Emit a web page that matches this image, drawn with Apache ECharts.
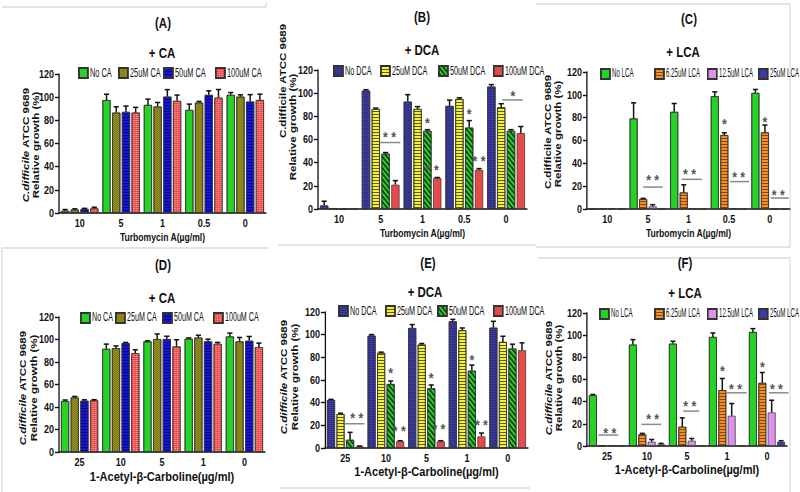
<!DOCTYPE html>
<html><head><meta charset="utf-8">
<script src="https://cdn.jsdelivr.net/npm/echarts@6/dist/echarts.min.js"></script>
<style>
html,body{margin:0;padding:0;background:#fff;overflow:hidden}
#wrap{width:800px;height:492px;overflow:hidden;position:relative}
#c{width:976px;height:492px;transform:scale(0.81967,1);transform-origin:0 0;position:absolute;left:0;top:0}
</style>
</head><body><div id="wrap"><div id="c"></div></div>
<script>
// ---------- data ----------
const turboCats = ['10', '5', '1', '0.5', '0'];
const carbCats = ['25', '10', '5', '1', '0'];
const caNames = ['No CA', '25uM CA', '50uM CA', '100uM CA'];
const dcaNames = ['No DCA', '25uM DCA', '50uM DCA', '100uM DCA'];
const lcaNames = ['No LCA', '6.25uM LCA', '12.5uM LCA', '25uM LCA'];

const valsA = [
  [2, 97.5, 93.3, 89, 102],
  [3, 86.7, 91.9, 95.3, 100.5],
  [3.5, 87.3, 100.5, 102, 96.2],
  [4, 86.7, 96.8, 99.6, 97.6]];
const errsA = [
  [1, 5, 5, 5, 2],
  [0.6, 5, 3.5, 1, 1.5],
  [0.5, 5, 6, 3.5, 6],
  [1, 4.5, 5, 7, 5]];
const valsB = [
  [3, 102.2, 92.7, 89, 105.7],
  [0.3, 86.4, 86.4, 95, 87.9],
  [0.3, 47.7, 67.5, 70.3, 67.5],
  [0.3, 21, 26.7, 33.9, 65.5]];
const errsB = [
  [3.7, 0.8, 6, 5, 1.7],
  [0, 0.7, 2, 1, 3],
  [0, 1, 1, 6, 1],
  [0, 3.5, 0.5, 1, 5.7]];
const valsC = [
  [0.5, 79.3, 85.1, 98.8, 101.7],
  [0.5, 8.7, 14.5, 64.8, 67.1],
  [0.5, 2.3, 0.3, 0.3, 0.3],
  [0.5, 0.3, 0.3, 0.3, 0.3]];
const errsC = [
  [0, 13.7, 7.3, 3.8, 3],
  [0, 0.6, 6.7, 2, 6.4],
  [0, 1.5, 0, 0, 0],
  [0, 0, 0, 0, 0]];
const valsD = [
  [45.3, 91.7, 98.3, 100.7, 102.7],
  [48.5, 92.3, 100.4, 101.8, 98.3],
  [45.6, 96.8, 100.4, 98.3, 98.9],
  [45.9, 87.8, 93.8, 96.2, 93.2]];
const errsD = [
  [0.9, 4.2, 0.5, 0.7, 3],
  [0.9, 2, 4.5, 2, 3.5],
  [0.8, 0.6, 2.5, 2, 3.8],
  [0.6, 3, 6, 1.2, 3.6]];
const valsE = [
  [42.4, 99.2, 105.9, 111.8, 106.2],
  [29.9, 84, 91.3, 103.9, 93.6],
  [7.3, 56.5, 52.7, 68.2, 87.8],
  [1.5, 5.9, 5.9, 10.2, 86.3]];
const errsE = [
  [0.5, 0.9, 3, 1.7, 5.6],
  [0.8, 0.6, 0.9, 2, 5],
  [6.5, 2.6, 2.9, 5, 3.8],
  [0.3, 0.5, 0.5, 3, 6.5]];
const valsF = [
  [45.9, 91.5, 92.4, 98.4, 102.9],
  [0.5, 10.5, 17.4, 50.4, 57],
  [0.5, 3.9, 4.8, 27.3, 30.3],
  [0.5, 1.5, 0.5, 0.5, 3.9]];
const errsF = [
  [0.6, 4.5, 2.1, 3.6, 3],
  [0, 0.9, 8, 10.5, 9.3],
  [0, 2, 2, 11, 11],
  [0, 0.9, 0, 0, 0.9]];

// significance marks: [category, bar slot, value, text]  and lines: [category, slot from, slot to, value]
const starsB = [[1, 2.4, 65.5, '* *'], [2, 2, 78, '*'], [2, 2.5, 37, '* *'], [3, 2, 85.6, '*'], [3, 3, 44.5, '* *'], [4, 2.2, 101, '*']];
const barsB = [[1, 1.45, 3.5, 57.4], [4, 1.1, 3.2, 94.2]];
const starsC = [[1, 2, 28.5, '* *'], [2, 1.6, 34.3, '* *'], [3, 1, 78, '*'], [3, 2.5, 31.4, '* *'], [4, 1, 80, '*'], [4, 2.4, 16, '* *']];
const barsC = [[1, 1, 3.05, 19.2], [2, 0.8, 2.9, 26], [3, 1.6, 3.6, 24], [4, 1.6, 3.5, 9.6]];
const starsE = [[0, 2.7, 30, '* *'], [1, 2, 69.7, '*'], [1, 2.9, 18.4, '* *'], [2, 2, 65.3, '*'], [2, 2.8, 20.5, '* *'], [3, 2, 81, '*'], [3, 3, 23.4, '* *']];
const barsE = [[0, 1.4, 3.5, 21.4]];
const starsF = [[0, 1.8, 15, '* *'], [1, 2.1, 28, '* *'], [2, 1.8, 40, '* *'], [3, 1, 71.4, '*'], [3, 2.4, 55, '* *'], [4, 1, 74.4, '*'], [4, 2.5, 55, '* *']];
const barsF = [[0, 0.6, 2.7, 9.9], [1, 0.9, 3, 19.5], [2, 1.1, 2.8, 31.5], [3, 1.5, 3.6, 48], [4, 1.7, 3.8, 48]];

// ---------- layout helpers ----------
const SX = 800 / 976;             // whole figure is horizontally compressed
const X = v => v / SX;            // screen x -> chart x
const SANS = '"Liberation Sans",Arial,sans-serif';

function hStripes(c) { return { symbol: 'rect', symbolSize: 1, symbolKeepAspect: false, dashArrayX: [1, 0], dashArrayY: [1, 1.5], color: c }; }
function dStripes(c) { return { symbol: 'rect', symbolSize: 1, symbolKeepAspect: false, dashArrayX: [1, 0], dashArrayY: [1.3, 1.8], rotation: Math.PI / 4, color: c }; }
function checker(c) { return { symbol: 'rect', symbolSize: 1, symbolKeepAspect: false, dashArrayX: [[1, 1], [0, 1, 1, 0]], dashArrayY: [1, 0], color: c }; }
function dots(c) { return { symbol: 'rect', symbolSize: 1, symbolKeepAspect: false, dashArrayX: [1, 1], dashArrayY: [1, 1], color: c }; }

const caStyles = [
  { color: '#2ee62e', decal: checker('rgba(0,120,0,0.35)') },
  { color: '#a5a224', decal: checker('rgba(60,60,0,0.55)') },
  { color: '#1414d6', decal: hStripes('rgba(0,0,90,0.6)') },
  { color: '#f24848', decal: dots('rgba(255,190,190,0.8)') }];
const dcaStyles = [
  { color: '#3b3ba2', decal: dots('rgba(20,20,70,0.6)') },
  { color: '#f4f232', decal: hStripes('rgba(40,40,0,0.75)') },
  { color: '#34d034', decal: dStripes('rgba(0,40,0,0.8)') },
  { color: '#e84a4a' }];
const lcaStyles = [
  { color: '#2ee62e', decal: checker('rgba(0,120,0,0.35)') },
  { color: '#f39022', decal: hStripes('rgba(90,40,0,0.7)') },
  { color: '#dc92ec' },
  { color: '#3b3baa' }];

const panels = [
  { cats: turboCats, names: caNames, st: caStyles, vals: valsA, errs: errsA, stars: [], bars: [],
    grid: [59, 74, 207, 139], title: ['(A)', 163, 23], sub: ['+ CA', 162, 53],
    leg: [[78, 118, 163, 215], 72, 13, 0.69],
    yn: [true, 25, 145, 35, 145], xname: 'Turbomycin A(\u00b5g/ml)', xfs: 10.5, xgap: 19 },
  { cats: turboCats, names: dcaNames, st: dcaStyles, vals: valsB, errs: errsB, stars: starsB, bars: barsB,
    grid: [318, 70, 209, 139], title: ['(B)', 422, 17], sub: ['+ DCA', 422, 50],
    leg: [[333, 380, 438, 493], 70, 13, 0.68],
    yn: [false, 282, 81, 292, 127], xname: 'Turbomycin A(\u00b5g/ml)', xfs: 10.5, xgap: 19 },
  { cats: turboCats, names: lcaNames, st: lcaStyles, vals: valsC, errs: errsC, stars: starsC, bars: barsC,
    grid: [587, 72, 203, 137], title: ['(C)', 689, 19], sub: ['+ LCA', 683, 52],
    leg: [[600, 654, 707, 758], 73, 12.5, 0.6],
    yn: [false, 547, 132, 557, 134], xname: 'Turbomycin A(\u00b5g/ml)', xfs: 10.5, xgap: 19 },
  { cats: carbCats, names: caNames, st: caStyles, vals: valsD, errs: errsD, stars: [], bars: [],
    grid: [59, 317, 206, 135], title: ['(D)', 163, 265], sub: ['+ CA', 162, 298],
    leg: [[80, 115, 162, 213], 317, 13, 0.67],
    yn: [true, 22, 388, 33, 388], xname: '1-Acetyl-\u03b2-Carboline(\u00b5g/ml)', xfs: 13.5, xgap: 18 },
  { cats: carbCats, names: dcaNames, st: dcaStyles, vals: valsE, errs: errsE, stars: starsE, bars: barsE,
    grid: [325, 312, 203, 136], title: ['(E)', 428, 263], sub: ['+ DCA', 425, 292],
    leg: [[338, 385, 437, 493], 310, 13, 0.68],
    yn: [true, 283, 377, 294, 377], xname: '1-Acetyl-\u03b2-Carboline(\u00b5g/ml)', xfs: 13.5, xgap: 17 },
  { cats: carbCats, names: lcaNames, st: lcaStyles, vals: valsF, errs: errsF, stars: starsF, bars: barsF,
    grid: [587, 313, 200, 133], title: ['(F)', 685, 263], sub: ['+ LCA', 685, 293],
    leg: [[599, 654, 707, 758], 313, 12.5, 0.6],
    yn: [true, 548, 378, 558, 378], xname: '1-Acetyl-\u03b2-Carboline(\u00b5g/ml)', xfs: 13.5, xgap: 17 }
];

function slotX(api, cat, slot) {
  const c = api.coord([cat, 0])[0];
  const band = api.size([1, 0])[0];
  const w = band * 0.9 / 4.6;
  return c + (slot - 1.5) * 1.2 * w;
}

const grids = [], xAxes = [], yAxes = [], series = [], legends = [], graphics = [];
const txt = { fontFamily: SANS, fontWeight: 'bold', color: '#111' };

panels.forEach((p, i) => {
  grids.push({ left: X(p.grid[0]), top: p.grid[1], width: X(p.grid[2]), height: p.grid[3] });
  xAxes.push({
    type: 'category', gridIndex: i, data: p.cats,
    axisLine: { lineStyle: { color: '#111', width: 1.5 } },
    axisTick: { alignWithLabel: true, length: 4, lineStyle: { color: '#111', width: 1.4 } },
    axisLabel: Object.assign({ fontSize: 11, margin: 5 }, txt),
    name: p.xname, nameLocation: 'middle', nameGap: p.xgap,
    nameTextStyle: Object.assign({ fontSize: p.xfs }, txt)
  });
  yAxes.push({
    type: 'value', gridIndex: i, min: 0, max: 120, interval: 20,
    axisLine: { show: true, lineStyle: { color: '#111', width: 1.6 } },
    axisTick: { show: true, length: 5, lineStyle: { color: '#111', width: 1.4 } },
    splitLine: { show: false },
    axisLabel: Object.assign({ fontSize: 11, margin: 6 }, txt)
  });
  p.names.forEach((n, s) => {
    series.push({
      type: 'bar', name: n, xAxisIndex: i, yAxisIndex: i, data: p.vals[s],
      barCategoryGap: '10%', barGap: '20%', animation: false,
      itemStyle: Object.assign({ borderColor: '#333', borderWidth: 0.8 }, p.st[s]),
      emphasis: { disabled: true }
    });
    // legend swatch (one legend per entry so each swatch sits where the reference has it)
    legends.push({
      left: X(p.leg[0][s]), top: p.leg[1] - 5, itemWidth: X(9), itemHeight: 10, icon: 'rect',
      selectedMode: false, data: [n], padding: 0, formatter: () => '',
      textStyle: { fontSize: 1 }
    });
    // legend label, drawn condensed like the reference's narrow legend font
    graphics.push({ type: 'text', x: X(p.leg[0][s] + 12), y: p.leg[1], scaleX: p.leg[3], silent: true,
      style: { text: n, font: p.leg[2] + 'px ' + SANS, fill: '#111', align: 'left', verticalAlign: 'middle' } });
  });
  const eData = [];
  p.vals.forEach((row, s) => row.forEach((v, c) => { if (p.errs[s][c] > 0) eData.push([c, v, s, p.errs[s][c]]); }));
  series.push({
    type: 'custom', xAxisIndex: i, yAxisIndex: i, data: eData, clip: false, z: 5, animation: false, silent: true,
    renderItem: (params, api) => {
      const c = api.value(0), v = api.value(1), s = api.value(2), e = api.value(3);
      const x = slotX(api, c, s);
      const y0 = api.coord([c, v])[1], y1 = api.coord([c, v + e])[1];
      const w = api.size([1, 0])[0] * 0.9 / 4.6;
      const cap = w * 0.32;
      return { type: 'group', children: [
        { type: 'line', shape: { x1: x, y1: y0, x2: x, y2: y1 }, style: { stroke: '#111', lineWidth: 1.8 } },
        { type: 'line', shape: { x1: x - cap, y1: y1, x2: x + cap, y2: y1 }, style: { stroke: '#111', lineWidth: 1.5 } }
      ] };
    }
  });
  if (p.stars.length) {
    series.push({
      type: 'custom', xAxisIndex: i, yAxisIndex: i, clip: false, z: 6, animation: false, silent: true,
      data: p.stars.map(s => [s[0], s[2], s[1]]),
      renderItem: (params, api) => {
        const c = api.value(0), v = api.value(1), sl = api.value(2);
        const x = slotX(api, c, sl);
        const y = api.coord([c, v])[1];
        return { type: 'text', x: x, y: y + 4, style: { text: p.stars[params.dataIndex][3], fill: '#555',
          font: 'bold 15px ' + SANS, align: 'center', verticalAlign: 'middle' } };
      }
    });
    series.push({
      type: 'custom', xAxisIndex: i, yAxisIndex: i, clip: false, z: 6, animation: false, silent: true,
      data: p.bars.map(b => [b[0], b[3], b[1], b[2]]),
      renderItem: (params, api) => {
        const c = api.value(0), v = api.value(1);
        const xa = slotX(api, c, api.value(2)), xb = slotX(api, c, api.value(3));
        const y = api.coord([c, v])[1];
        return { type: 'line', shape: { x1: xa, y1: y, x2: xb, y2: y }, style: { stroke: '#8a8a8a', lineWidth: 1.5 } };
      }
    });
  }
  graphics.push({ type: 'text', x: X(p.title[1]), y: p.title[2], silent: true,
    style: { text: p.title[0], font: 'bold 14px ' + SANS, fill: '#111', align: 'center', verticalAlign: 'middle' } });
  graphics.push({ type: 'text', x: X(p.sub[1]), y: p.sub[2], silent: true,
    style: { text: p.sub[0], font: 'bold 14px ' + SANS, fill: '#111', align: 'center', verticalAlign: 'middle' } });
  const rich = {
    i: { fontFamily: SANS, fontStyle: 'italic', fontWeight: 'bold', fontSize: 11.5, fill: '#111' },
    b: { fontFamily: SANS, fontWeight: 'bold', fontSize: 11.5, fill: '#111' }
  };
  graphics.push({ type: 'text', x: X(p.yn[1]), y: p.yn[2], rotation: Math.PI / 2, silent: true,
    style: { text: p.yn[0] ? '{i|C.difficile}{b| ATCC 9689}' : '{b|C.difficile ATCC 9689}', rich: rich,
      align: 'center', verticalAlign: 'middle' } });
  graphics.push({ type: 'text', x: X(p.yn[3]), y: p.yn[4], rotation: Math.PI / 2, silent: true,
    style: { text: '{b|Relative growth (%)}', rich: rich, align: 'center', verticalAlign: 'middle' } });
});

// faint panel frames
const frameStyle = { stroke: '#dcdcdc', lineWidth: 1.5, fill: null };
[
  [[2, 7], [266, 7], [266, 2]],
  [[2, 492], [2, 248], [269, 248]],
  [[278, 245], [536, 245]],
  [[536, 4], [790, 4], [790, 247], [536, 247]],
  [[538, 258], [790, 258], [790, 492]],
  [[280, 488], [530, 488]]
].forEach(pts => graphics.push({ type: 'polyline', silent: true, z: -1,
  shape: { points: pts.map(q => [X(q[0]), q[1]]) }, style: frameStyle }));

const chart = echarts.init(document.getElementById('c'), null, { renderer: 'svg' });
chart.setOption({
  animation: false,
  backgroundColor: '#fff',
  grid: grids, xAxis: xAxes, yAxis: yAxes, series: series, legend: legends, graphic: graphics
});
</script></body></html>
